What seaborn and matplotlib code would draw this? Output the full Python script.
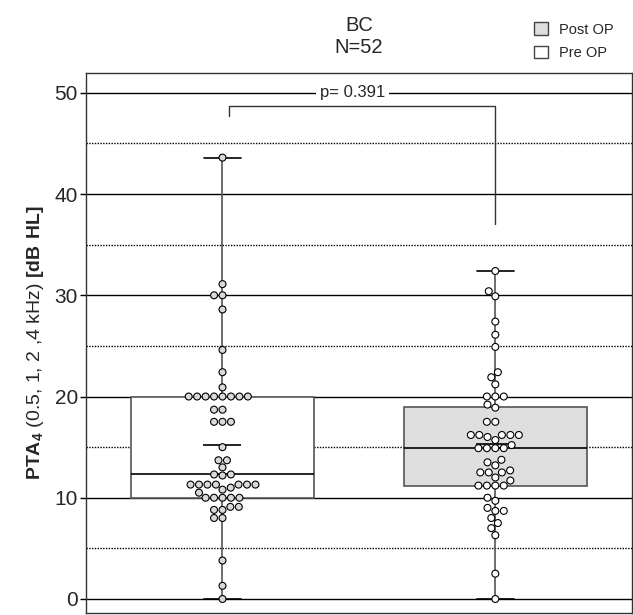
import matplotlib
matplotlib.use("Agg")
import matplotlib.pyplot as plt
from matplotlib.patches import Patch
import seaborn as sns
import pandas as pd

sns.set_style("white")
plt.rcParams["font.family"] = ["Liberation Sans", "DejaVu Sans"]
plt.rcParams["mathtext.fontset"] = "custom"
plt.rcParams["mathtext.rm"] = "Liberation Sans"
plt.rcParams["mathtext.bf"] = "Liberation Sans:bold"

groups = ["Pre OP", "Post OP"]

pre_op = [0, 1.3, 3.8, 8.0, 8.0, 8.8, 8.8, 9.1, 9.1,
          10, 10, 10, 10, 10, 10.5, 10.8, 11.0,
          11.3, 11.3, 11.3, 11.3, 11.3, 11.3, 11.3,
          12.2, 12.3, 12.3, 13.0, 13.7, 13.7, 15.0,
          17.5, 17.5, 17.5, 18.7, 18.7,
          20, 20, 20, 20, 20, 20, 20, 20,
          20.9, 22.4, 24.6, 28.6, 30, 30, 31.1, 43.6]

post_op = [0, 2.5, 6.3, 7.0, 7.5, 8.0, 8.7, 8.7, 9.0, 9.7, 10.0,
           11.2, 11.2, 11.2, 11.2, 11.7, 12.0, 12.5, 12.5, 12.5,
           12.7, 13.2, 13.5, 13.75, 14.9, 14.9, 14.9, 14.9,
           15.2, 15.7, 16.0, 16.2, 16.2, 16.2, 16.2, 16.2,
           17.5, 17.5, 18.9, 19.2, 20, 20, 20,
           21.2, 21.9, 22.4, 24.9, 26.1, 27.4, 29.9, 30.4, 32.4]

p_text = "p= 0.391"
title = "BC\nN=52"

df = pd.DataFrame({
    "group": ["Pre OP"] * len(pre_op) + ["Post OP"] * len(post_op),
    "value": pre_op + post_op,
})

fig, ax = plt.subplots(figsize=(6.33, 6.15), dpi=100)
fig.subplots_adjust(left=0.136, right=0.998, top=0.882, bottom=0.003)

# grid: solid every 10, dotted every 5
for y in range(0, 51, 10):
    ax.axhline(y, color="black", lw=1, zorder=0)
for y in range(5, 50, 10):
    ax.axhline(y, color="black", lw=1, ls=(0, (1, 1)), zorder=0)

sns.boxplot(data=df, x="group", y="value", order=groups, hue="group",
            palette={"Pre OP": "white", "Post OP": "#dedede"},
            width=0.67, whis=(0, 100), showfliers=False, linecolor="#555555",
            linewidth=1.2, legend=False, ax=ax,
            capwidths=0.135,
            capprops=dict(color="black", lw=1.2),
            medianprops=dict(color="black", lw=1.2),
            showmeans=True,
            meanprops=dict(marker="_", markersize=27, markeredgecolor="black",
                           markeredgewidth=1.2))

sns.swarmplot(data=df, x="group", y="value", order=groups, hue="group",
              palette={"Pre OP": "#d9d9d9", "Post OP": "white"},
              size=5, edgecolor="black", linewidth=0.8, legend=False,
              zorder=5, ax=ax)

# significance bracket
ax.plot([0.023, 0.023, 1.0, 1.0], [47.7, 48.7, 48.7, 37.0],
        color="#333333", lw=1, zorder=4)
ax.text(0.477, 50, p_text, ha="center", va="center", fontsize=12,
        bbox=dict(facecolor="white", edgecolor="none", pad=3), zorder=4)

ax.set_xlim(-0.5, 1.5)
ax.set_ylim(-1.4, 52)
ax.set_xticks([])
ax.set_xlabel("")
ax.set_yticks(range(0, 51, 10))
ax.tick_params(axis="y", left=True, length=4, width=1, labelsize=15,
               pad=2, color="black")
for s in ax.spines.values():
    s.set_color("#333333")
    s.set_linewidth(1)

ax.set_ylabel(r"$\mathbf{PTA_{4}}$ (0.5, 1, 2 ,4 kHz) $\mathbf{[dB\ HL]}$",
              fontsize=14, labelpad=6)
ax.set_title(title, fontsize=14.5, pad=14)

handles = [Patch(facecolor="#dedede", edgecolor="#444444", label="Post OP"),
           Patch(facecolor="white", edgecolor="#444444", label="Pre OP")]
fig.legend(handles=handles, loc="upper left", bbox_to_anchor=(0.835, 0.973),
           frameon=False, fontsize=10.5, handlelength=0.9, handleheight=0.9,
           handletextpad=0.8, labelspacing=0.65, borderaxespad=0)

plt.savefig("out.png", dpi=100)
